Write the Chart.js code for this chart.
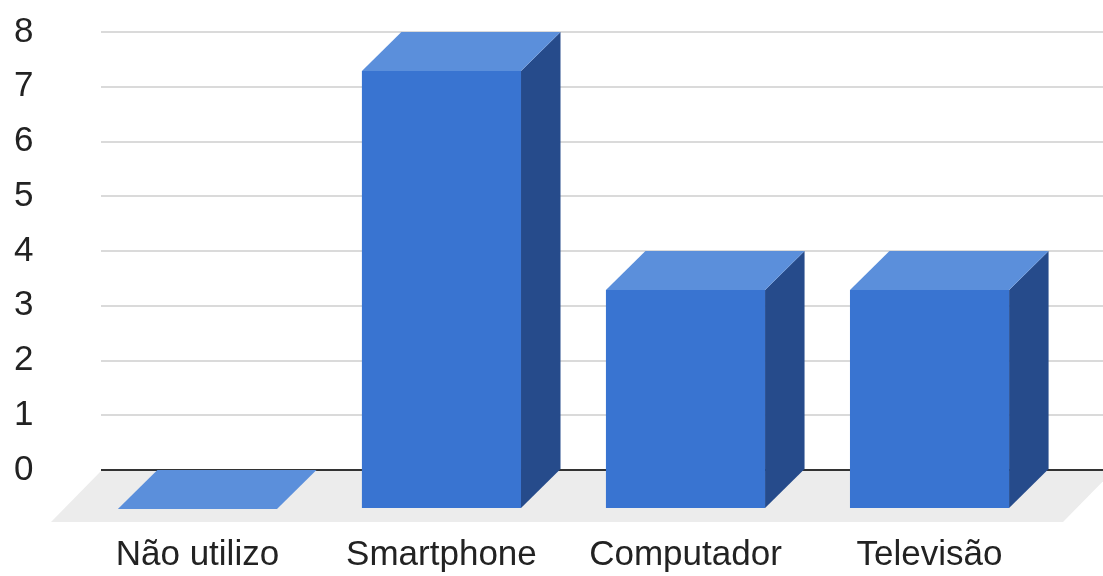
<!DOCTYPE html>
<html lang="pt">
<head>
<meta charset="utf-8">
<title>Dispositivos</title>
<script src="https://cdn.jsdelivr.net/npm/chart.js@4.4.1/dist/chart.umd.min.js"></script>
<style>
    html, body { margin: 0; padding: 0; background: #fff; }
    #wrap { width: 1103px; height: 576px; position: relative; }
</style>
</head>
<body>
<div id="wrap"><canvas id="chart"></canvas></div>
<script>
const categories = ['Não utilizo', 'Smartphone', 'Computador', 'Televisão'];
const counts = [0, 8, 4, 4];
const yTicks = [0, 1, 2, 3, 4, 5, 6, 7, 8];

// 3D look: offset of the front face from the back plane, and of the floor
const DEPTH_X = 39.5;
const DEPTH_Y = 39;
const FLOOR_X = 50;
const FLOOR_Y = 51;

const FRONT_COLOR = '#3974d1';
const TOP_COLOR = '#5b8fdb';
const SIDE_COLOR = '#264b8b';
const FLOOR_COLOR = '#ececec';

const FONT = { family: '"Liberation Sans", Arial, sans-serif', size: 35, lineHeight: 1.2 };

function poly(ctx, pts, color) {
    ctx.beginPath();
    ctx.moveTo(pts[0][0], pts[0][1]);
    for (let i = 1; i < pts.length; i++) ctx.lineTo(pts[i][0], pts[i][1]);
    ctx.closePath();
    ctx.fillStyle = color;
    ctx.fill();
}

// floor under the back plane, drawn after the grid but before the bars
const floorPlugin = {
    id: 'floor3d',
    beforeDatasetsDraw(chart) {
        const ctx = chart.ctx;
        const area = chart.chartArea;
        const y0 = chart.scales.y.getPixelForValue(0) + 1;
        const r = area.right + 10;
        ctx.save();
        poly(ctx, [
            [area.left, y0], [r, y0],
            [r - FLOOR_X, y0 + FLOOR_Y], [area.left - FLOOR_X, y0 + FLOOR_Y]
        ], FLOOR_COLOR);
        // zero line sits on top of the floor
        ctx.beginPath();
        ctx.moveTo(area.left, y0 - 1);
        ctx.lineTo(chart.width, y0 - 1);
        ctx.lineWidth = 2;
        ctx.strokeStyle = '#333';
        ctx.stroke();
        ctx.restore();
    }
};

// boxes built from each bar element: back face from the scales, front face shifted forward
const boxPlugin = {
    id: 'box3d',
    afterDatasetsDraw(chart) {
        const ctx = chart.ctx;
        const meta = chart.getDatasetMeta(0);
        ctx.save();
        meta.data.forEach(bar => {
            const p = bar.getProps(['x', 'y', 'base', 'width'], true);
            const bl = p.x - p.width / 2, br = p.x + p.width / 2;
            const bt = p.y, bb = p.base;
            const fl = bl - DEPTH_X, fr = br - DEPTH_X;
            const ft = bt + DEPTH_Y, fb = bb + DEPTH_Y;
            poly(ctx, [[fr, ft], [br, bt], [br, bb], [fr, fb]], SIDE_COLOR);
            poly(ctx, [[fl, ft], [bl, bt], [br, bt], [fr, ft]], TOP_COLOR);
            if (fb - ft > 0.5) {
                ctx.fillStyle = FRONT_COLOR;
                ctx.fillRect(fl, ft, fr - fl, fb - ft);
            }
        });
        ctx.restore();
    }
};

new Chart(document.getElementById('chart'), {
    type: 'bar',
    data: {
        datasets: [{
            data: counts.map((v, i) => ({ x: i, y: v })),
            backgroundColor: 'rgba(0,0,0,0)',
            borderWidth: 0,
            barPercentage: 1,
            categoryPercentage: 0.652
        }]
    },
    options: {
        responsive: true,
        maintainAspectRatio: false,
        animation: false,
        layout: { padding: { top: 32, right: 0, bottom: 0, left: 14 } },
        plugins: { legend: { display: false }, tooltip: { enabled: false } },
        scales: {
            x: {
                type: 'linear',
                min: -0.557,
                max: 3.549,
                offset: false,
                // invisible tick marks push the labels below the floor
                grid: { display: false, drawTicks: true, tickLength: 64 },
                border: { display: false },
                afterBuildTicks: s => { s.ticks = categories.map((_, i) => ({ value: i })); },
                afterFit: s => { s.height = 106; },
                ticks: {
                    callback: v => categories[v],
                    font: FONT,
                    color: '#222',
                    padding: 0,
                    labelOffset: -DEPTH_X,
                    maxRotation: 0,
                    autoSkip: false
                }
            },
            y: {
                min: 0,
                max: 8,
                afterBuildTicks: s => { s.ticks = yTicks.map(v => ({ value: v })); },
                afterFit: s => { s.width = 87; },
                grid: {
                    drawTicks: false,
                    lineWidth: 2,
                    color: '#dadada'
                },
                border: { display: false },
                ticks: {
                    font: FONT,
                    color: '#222',
                    padding: 0,
                    crossAlign: 'far'
                }
            }
        }
    },
    plugins: [floorPlugin, boxPlugin]
});
</script>
</body>
</html>
